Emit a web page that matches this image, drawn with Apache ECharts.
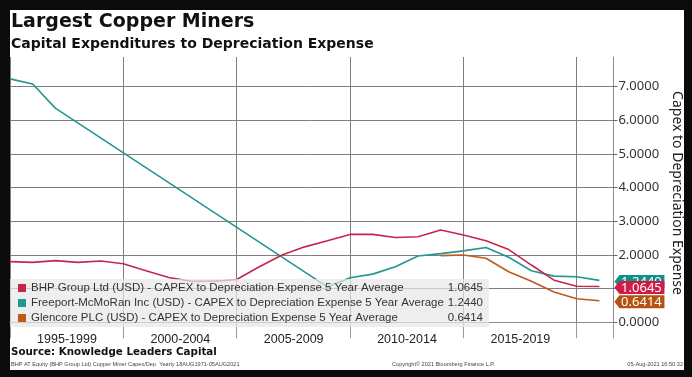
<!DOCTYPE html>
<html>
<head>
<meta charset="utf-8">
<script src="https://cdn.jsdelivr.net/npm/echarts@6/dist/echarts.min.js"></script>
<style>
  html, body { margin: 0; padding: 0; background: #0b0b0b; }
  #panel { position: absolute; left: 10px; top: 10px; width: 674px; height: 360px; background: #fff; }
  #chart { position: absolute; left: 0; top: 0; width: 692px; height: 377px; }
</style>
</head>
<body>
<div id="panel"></div>
<div id="chart"></div>
<script>
  // yearly points, 1995 - 2021
  var years = [1995, 1996, 1997, 1998, 1999, 2000, 2001, 2002, 2003, 2004, 2005, 2006, 2007, 2008,
    2009, 2010, 2011, 2012, 2013, 2014, 2015, 2016, 2017, 2018, 2019, 2020, 2021];
  var bhp = [1.80, 1.78, 1.83, 1.78, 1.82, 1.74, 1.53, 1.33, 1.22, 1.22, 1.27, 1.65, 2.00, 2.24,
    2.42, 2.61, 2.61, 2.52, 2.54, 2.74, 2.59, 2.42, 2.16, 1.70, 1.25, 1.07, 1.0645];
  // FCX has no points between 1998 and 2008, the line just joins across
  var fcx = [7.23, 7.08, 6.36, null, null, null, null, null, null, null, null, null, null, null,
    1.05, 1.32, 1.43, 1.65, 1.97, 2.04, 2.12, 2.22, 1.93, 1.53, 1.37, 1.35, 1.2440];
  var glencore = [null, null, null, null, null, null, null, null, null, null, null, null, null, null,
    null, null, null, null, null, 1.98, 2.00, 1.90, 1.50, 1.22, 0.90, 0.70, 0.6414];
  var seriesNames = [
    'BHP Group Ltd (USD) - CAPEX to Depreciation Expense 5 Year Average',
    'Freeport-McMoRan Inc (USD) - CAPEX to Depreciation Expense 5 Year Average',
    'Glencore PLC (USD) - CAPEX to Depreciation Expense 5 Year Average'
  ];
  var lastValues = [1.0645, 1.2440, 0.6414];
  var colors = ['#c8254d', '#23968f', '#bd5a1c'];
  var tagColors = ['#cc1c47', '#11908a', '#b4520f'];
  var yTicks = [0, 1, 2, 3, 4, 5, 6, 7];

  var sans = "'Liberation Sans', Arial, sans-serif";
  var xMax = 2021.62;

  function pairs(arr) {
    return years.map(function (y, i) { return [y, arr[i]]; });
  }

  // z: stacking of the value tags at the right axis (red sits over teal)
  function makeSeries(idx, data, z) {
    return {
      name: seriesNames[idx],
      type: 'line',
      data: pairs(data),
      showSymbol: false,
      connectNulls: true,
      lineStyle: { color: colors[idx], width: 1.6 },
      itemStyle: { color: colors[idx] },
      markPoint: {
        z: z,
        symbol: 'path://M0,6 L5,0 L50,0 L50,12 L5,12 Z',
        symbolSize: [50, 13],
        symbolOffset: [26, 1],
        symbolKeepAspect: false,
        itemStyle: { color: tagColors[idx] },
        label: {
          show: true,
          color: '#fff',
          fontSize: 13,
          fontFamily: 'Noto Sans',
          offset: [2, 1],
          formatter: function (p) { return p.value.toFixed(4); }
        },
        data: [{ coord: [xMax, lastValues[idx]], value: lastValues[idx] }]
      }
    };
  }

  var chart = echarts.init(document.getElementById('chart'));

  var option = {
    animation: false,
    title: [
      { text: 'Largest Copper Miners', left: 11, top: 13, padding: 0,
        textStyle: { fontFamily: 'DejaVu Sans', fontWeight: 'bold', fontSize: 19, color: '#111' } },
      { text: 'Capital Expenditures to Depreciation Expense', left: 11, top: 37, padding: 0,
        textStyle: { fontFamily: 'DejaVu Sans', fontWeight: 'bold', fontSize: 14, color: '#111' } },
      { text: 'Source: Knowledge Leaders Capital', left: 11, top: 347, padding: 0,
        textStyle: { fontFamily: 'DejaVu Sans', fontWeight: 'bold', fontSize: 10.3, color: '#111' } },
      { text: 'BHP AT Equity (BHP Group Ltd) Copper Miner Capex/Dep  Yearly 18AUG1971-05AUG2021', left: 11, top: 361, padding: 0,
        textStyle: { fontFamily: sans, fontWeight: 'normal', fontSize: 5.6, color: '#444' } },
      { text: 'Copyright© 2021 Bloomberg Finance L.P.', left: 392, top: 361, padding: 0,
        textStyle: { fontFamily: sans, fontWeight: 'normal', fontSize: 5.6, color: '#444' } },
      { text: '05-Aug-2021 16:50:32', right: 9, top: 361, padding: 0,
        textStyle: { fontFamily: sans, fontWeight: 'normal', fontSize: 5.6, color: '#444' } }
    ],
    legend: {
      data: seriesNames,
      orient: 'vertical',
      left: 10,
      top: 279,
      icon: 'rect',
      itemWidth: 8,
      itemHeight: 8,
      itemGap: 3,
      padding: [3, 6, 3, 8],
      backgroundColor: 'rgba(232,232,232,0.72)',
      selectedMode: false,
      textStyle: {
        fontFamily: sans, fontSize: 11.5, color: '#333',
        rich: {
          n: { width: 410, fontFamily: sans, fontSize: 11.5, lineHeight: 12, color: '#333' },
          v: { width: 42, align: 'right', fontFamily: sans, fontSize: 11.5, lineHeight: 12, color: '#333' }
        }
      },
      formatter: function (name) {
        var i = seriesNames.indexOf(name);
        return '{n|' + name + '}{v|' + lastValues[i].toFixed(4) + '}';
      }
    },
    grid: { left: 10, right: 75, top: 57, bottom: 48 },
    xAxis: {
      type: 'value',
      min: 1995,
      max: xMax,
      interval: 5,
      axisLine: { lineStyle: { color: '#8c8c8c' } },
      axisTick: { show: true, length: 16, lineStyle: { color: '#9a9a9a' } },
      splitLine: { show: true, lineStyle: { color: '#7f7f7f', width: 1 } },
      axisLabel: {
        align: 'left',
        margin: 4,
        formatter: function (v) {
          if (v % 5 !== 0 || v >= 2020) return '';
          return '{a|' + v + '-' + (v + 4) + '}';
        },
        rich: {
          a: { width: 114, align: 'center', fontFamily: sans, fontSize: 12.5, color: '#222' }
        }
      }
    },
    yAxis: {
      type: 'value',
      position: 'right',
      min: -0.2,
      max: 7.88,
      name: 'Capex to Depreciation Expense',
      nameLocation: 'middle',
      nameRotate: -90,
      nameGap: 56,
      nameTextStyle: { fontFamily: 'Noto Sans', fontSize: 14, color: '#222' },
      axisLine: { show: true, lineStyle: { color: '#8c8c8c' } },
      axisTick: { show: true, inside: false, length: 4, customValues: yTicks, lineStyle: { color: '#666' } },
      splitLine: { show: true, lineStyle: { color: '#7f7f7f', width: 1 } },
      axisLabel: {
        customValues: yTicks,
        margin: 5,
        fontFamily: 'Noto Sans',
        fontSize: 13,
        color: '#333',
        formatter: function (v) { return v.toFixed(4); }
      }
    },
    series: [makeSeries(1, fcx, 5), makeSeries(0, bhp, 7), makeSeries(2, glencore, 9)]
  };

  chart.setOption(option);
</script>
</body>
</html>
